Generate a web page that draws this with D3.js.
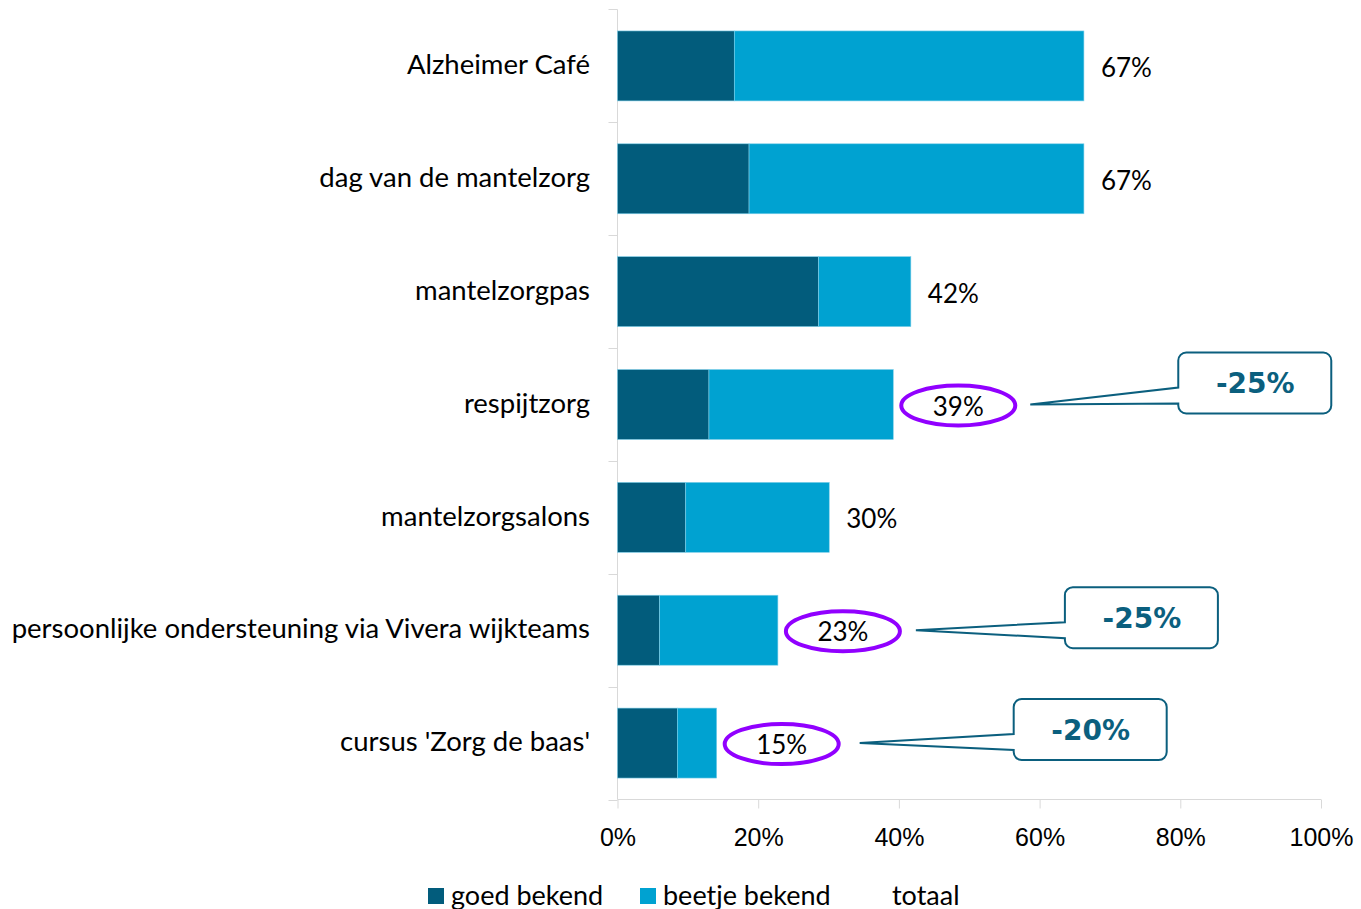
<!DOCTYPE html>
<html>
<head>
<meta charset="utf-8">
<script src="https://cdn.jsdelivr.net/npm/d3@7"></script>
<style>
  body { margin: 0; background: #fff; }
  svg { display: block; font-family: Lato, "Open Sans", sans-serif; }
  .axis path, .axis line { stroke: #d9d9d9; }
  .axis text { fill: #000; font-size: 25px; }
</style>
</head>
<body>
<script>
const categories = ["Alzheimer Café", "dag van de mantelzorg", "mantelzorgpas", "respijtzorg",
  "mantelzorgsalons", "persoonlijke ondersteuning via Vivera wijkteams", "cursus 'Zorg de baas'"];
const goedBekend = [16.6, 18.7, 28.6, 13.0, 9.7, 6.0, 8.5];
const beetjeBekend = [49.7, 47.6, 13.1, 26.2, 20.4, 16.8, 5.6];
const totaal = [67, 67, 42, 39, 30, 23, 15];
const xTicks = [0, 20, 40, 60, 80, 100];
const seriesNames = ["goed bekend", "beetje bekend", "totaal"];
// circled labels with a callout showing the change
const highlights = ["respijtzorg", "persoonlijke ondersteuning via Vivera wijkteams", "cursus 'Zorg de baas'"];
const changes = ["-25%", "-25%", "-20%"];

const w = 1361, h = 909;
const colors = ["#025c7c", "#00a2d1"];
// callout placement: box offset from bar end, tip height inside the box
const calloutLayout = [{ dx: 285, tip: 52 }, { dx: 287, tip: 43 }, { dx: 297, tip: 44 }];

const svg = d3.select("body").append("svg").attr("width", w).attr("height", h);

const x = d3.scaleLinear().domain([0, 100]).range([617.5, 1321]);
const y = d3.scaleBand().domain(categories).range([9.5, 799.5]).paddingInner(0.38).paddingOuter(0.19);

const rows = categories.map((c, i) => ({ cat: c, goed: goedBekend[i], beetje: beetjeBekend[i], tot: totaal[i] }));
const stack = d3.stack().keys(["goed", "beetje"])(rows);

// axes
const xAxis = svg.append("g").attr("class", "axis")
  .attr("transform", "translate(0,799.5)")
  .call(d3.axisBottom(x).tickValues(xTicks).tickFormat(d => d + "%").tickSize(9).tickPadding(20));
xAxis.select(".domain").attr("d", `M${x(0)},0H${x(100)}`);

const bandEdges = categories.map(c => y(c) - y.step() * y.paddingInner() / 2).concat([799.5]);
const yAxis = svg.append("g").attr("class", "axis");
yAxis.append("line").attr("x1", x(0)).attr("x2", x(0)).attr("y1", 9.5).attr("y2", 799.5);
yAxis.selectAll(".tk").data(bandEdges).enter().append("line")
  .attr("x1", x(0) - 9).attr("x2", x(0)).attr("y1", d => Math.round(d) + 0.5).attr("y2", d => Math.round(d) + 0.5);
svg.append("g").selectAll("text").data(categories).enter().append("text")
  .attr("x", 590).attr("y", d => y(d) + y.bandwidth() / 2).attr("dy", "0.3em")
  .attr("text-anchor", "end").style("font-size", "27.5px").text(d => d);

// bars
svg.append("g").selectAll("g").data(stack).enter().append("g")
  .attr("fill", (d, i) => colors[i])
  .selectAll("rect").data(d => d).enter().append("rect")
  .attr("x", d => x(d[0])).attr("width", d => x(d[1]) - x(d[0]))
  .attr("y", d => y(d.data.cat)).attr("height", y.bandwidth())
  .attr("stroke", "#7fd0ea").attr("stroke-width", 0.6);

// total labels
svg.append("g").selectAll("text").data(rows).enter().append("text")
  .attr("x", d => x(d.goed + d.beetje) + (highlights.includes(d.cat) ? 65 : 17))
  .attr("y", d => y(d.cat) + y.bandwidth() / 2 + 2).attr("dy", "0.35em")
  .attr("text-anchor", d => highlights.includes(d.cat) ? "middle" : "start")
  .style("font-size", "26px").text(d => d.tot + "%");

// ellipses and callouts
const hl = highlights.map((c, i) => {
  const r = rows.find(d => d.cat === c);
  const end = x(r.goed + r.beetje);
  const cy = y(c) + y.bandwidth() / 2;
  return { end, cy, text: changes[i], lay: calloutLayout[i] };
});
const ann = svg.append("g");
ann.selectAll("ellipse").data(hl).enter().append("ellipse")
  .attr("cx", d => d.end + 65).attr("cy", d => d.cy + 1).attr("rx", 57).attr("ry", 20)
  .attr("fill", "none").attr("stroke", "#9100ff").attr("stroke-width", 4);
const callout = ann.selectAll("g").data(hl).enter().append("g")
  .attr("transform", d => `translate(${d.end + d.lay.dx},${d.cy - d.lay.tip})`);
callout.append("path")
  .attr("d", d => {
    const tipX = -148 - (d.lay.dx - 285) / 2, tipY = d.lay.tip;
    return `M8,0H145A8,8 0 0 1 153,8V53A8,8 0 0 1 145,61H8A8,8 0 0 1 0,53V51L${tipX},${tipY}L0,35V8A8,8 0 0 1 8,0Z`;
  })
  .attr("fill", "#fff").attr("stroke", "#0b5f7e").attr("stroke-width", 2);
callout.append("text").attr("x", 77).attr("y", 31).attr("dy", "0.35em")
  .attr("text-anchor", "middle").attr("fill", "#0b5f7e")
  .style("font-family", "DejaVu Sans").style("font-weight", "bold").style("font-size", "28px")
  .text(d => d.text);

// legend
const legendX = [428, 640, 892];
const legend = svg.append("g").selectAll("g").data(seriesNames).enter().append("g")
  .attr("transform", (d, i) => `translate(${legendX[i]},896)`);
legend.filter((d, i) => i < 2).append("rect")
  .attr("x", 0).attr("y", -8).attr("width", 16).attr("height", 16)
  .attr("fill", (d, i) => colors[i]);
legend.append("text").attr("x", (d, i) => i < 2 ? 23 : 0).attr("dy", "0.35em")
  .style("font-size", "27px").text(d => d);
</script>
</body>
</html>
